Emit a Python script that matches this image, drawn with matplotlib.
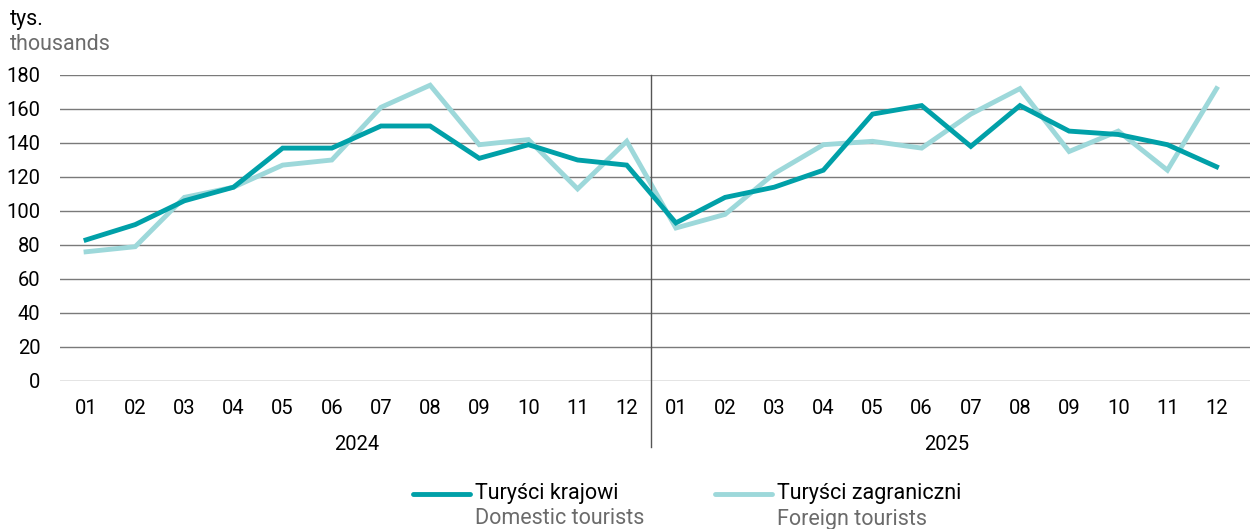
import matplotlib.pyplot as plt
from matplotlib.lines import Line2D
import matplotlib.transforms as mtransforms

plt.rcParams['font.family'] = ['Roboto', 'DejaVu Sans']

months = ["01", "02", "03", "04", "05", "06", "07", "08", "09", "10", "11", "12"]
years = ["2024", "2025"]
domestic = [83, 92, 106, 114, 137, 137, 150, 150, 131, 139, 130, 127,
            93, 108, 114, 124, 157, 162, 138, 162, 147, 145, 139, 126]
foreign = [76, 79, 108, 114, 127, 130, 161, 174, 139, 142, 113, 141,
           90, 98, 122, 139, 141, 137, 157, 172, 135, 147, 124, 172]

c_dom = "#00A0A8"
c_for = "#9DD8DA"

fig = plt.figure(figsize=(12.5, 5.29), dpi=100)
ax = fig.add_axes([60 / 1250, 1 - 381 / 529, 1190 / 1250, 306 / 529])

x = list(range(len(domestic)))
ax.plot(x, domestic, color=c_dom, lw=3.5, solid_joinstyle="miter", zorder=3)
ax.plot(x, foreign, color=c_for, lw=3.5, solid_joinstyle="miter", zorder=2)

ax.set_ylim(0, 180)
ax.set_xlim(-0.53, 23.68)
ax.set_yticks(range(0, 181, 20))
ax.set_xticks(x)
ax.set_xticklabels(months * 2)
ax.tick_params(axis="both", length=0, labelsize=14.5)
ax.tick_params(axis="y", pad=14)
ax.tick_params(axis="x", pad=13)
ax.grid(axis="y", color="#7a7a7a", lw=1)
ax.set_axisbelow(True)
for s in ax.spines.values():
    s.set_visible(False)

# separator between years
trans = mtransforms.blended_transform_factory(ax.transData, fig.transFigure)
ax.add_line(Line2D([11.5, 11.5], [1 - 75 / 529, 1 - 447 / 529], transform=trans,
                   color="#555555", lw=1, clip_on=False))
for i, yr in enumerate(years):
    ax.text(5.5 + 12 * i, 1 - 445 / 529, yr, transform=trans, ha="center",
            va="center", fontsize=14.5)

fig.text(10 / 1250, 1 - 20 / 529, "tys.", fontsize=15.5, va="center")
fig.text(10 / 1250, 1 - 45 / 529, "thousands", fontsize=15.5, va="center", color="#6b6b6b")

# legend
legend_items = [("Turyści krajowi", "Domestic tourists", c_dom, 413),
                ("Turyści zagraniczni", "Foreign tourists", c_for, 715)]
for pl, en, col, x0 in legend_items:
    fig.add_artist(Line2D([x0 / 1250, (x0 + 57) / 1250], [1 - 494 / 529] * 2,
                          color=col, lw=3.5, solid_capstyle="round"))
    fig.text((x0 + 62) / 1250, 1 - 494 / 529, pl, fontsize=15.5, va="center")
    fig.text((x0 + 62) / 1250, 1 - 519 / 529, en, fontsize=15.5, va="center", color="#6b6b6b")

fig.savefig("out.png", dpi=100)
